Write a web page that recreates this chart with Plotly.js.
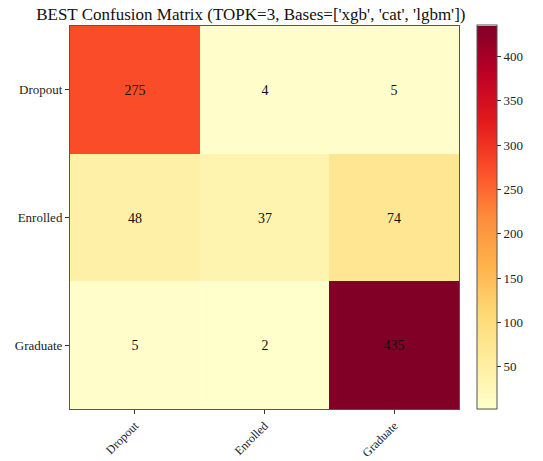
<!DOCTYPE html>
<html><head><meta charset="utf-8">
<script src="https://cdn.plot.ly/plotly-3.0.1.min.js"></script>
<style>body{margin:0;background:#fff}</style>
</head><body>
<div id="chart" style="width:543px;height:461px"></div>
<script>
const predLabels = ["Dropout", "Enrolled", "Graduate"];
const trueLabels = ["Dropout", "Enrolled", "Graduate"];
const rowDropout = [275, 4, 5];
const rowEnrolled = [48, 37, 74];
const rowGraduate = [5, 2, 435];
const cbTicks = [50, 100, 150, 200, 250, 300, 350, 400];

const z = [rowDropout, rowEnrolled, rowGraduate];
const ylorrd = ["#ffffcc","#ffeda0","#fed976","#feb24c","#fd8d3c","#fc4e2a","#e31a1c","#bd0026","#800026"];
const colorscale = ylorrd.map((c,i)=>[i/(ylorrd.length-1), c]);
const allVals = z.flat();
const fam = "'Liberation Serif', 'Times New Roman', serif";
const font = {family: fam, color: "#222", size: 13};

Plotly.newPlot("chart", [{
  type: "heatmap",
  x: predLabels, y: trueLabels, z: z,
  zmin: Math.min(...allVals), zmax: Math.max(...allVals),
  colorscale: colorscale,
  texttemplate: "%{z}",
  textfont: {family: fam, size: 14, color: "#111"},
  hoverinfo: "skip",
  colorbar: {
    x: 1.046, xanchor: "left", xref: "paper", xpad: 0, ypad: 0,
    y: 0.5, yanchor: "middle", len: 1.003, lenmode: "fraction",
    thickness: 20, outlinewidth: 1, outlinecolor: "#555",
    tickvals: cbTicks, ticks: "outside", ticklen: 4, tickcolor: "#333",
    tickfont: {family: fam, size: 13, color: "#222"}
  }
}], {
  width: 543, height: 461,
  margin: {l: 70, r: 84, t: 26, b: 52, autoexpand: false},
  paper_bgcolor: "#fff", plot_bgcolor: "#fff",
  font: font,
  title: {text: "BEST Confusion Matrix (TOPK=3, Bases=['xgb', 'cat', 'lgbm'])",
          font: {family: fam, size: 17, color: "#111"},
          x: 0.462, xanchor: "center", xref: "container", y: 0.97, yanchor: "middle", yref: "container"},
  xaxis: {type: "category", tickangle: -45, ticks: "outside", ticklen: 4, tickcolor: "#333",
          showline: true, linecolor: "#555", linewidth: 1, mirror: true, showgrid: false, zeroline: false,
          tickfont: {family: fam, size: 12, color: "#222"}},
  yaxis: {type: "category", autorange: "reversed", ticks: "outside", ticklen: 4, tickcolor: "#333",
          showline: true, linecolor: "#555", linewidth: 1, mirror: true, showgrid: false, zeroline: false,
          tickfont: {family: fam, size: 13, color: "#222"}}
}, {displayModeBar: false, staticPlot: true});
</script>
</body></html>
